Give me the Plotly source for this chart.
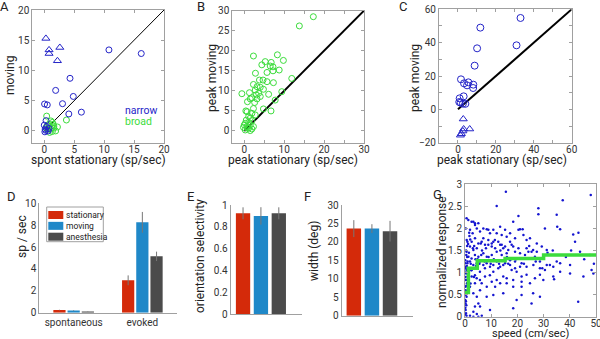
import plotly.graph_objects as go

W, H = 600, 339
def px(x): return x / W
def py(y): return 1 - y / H

FONT = "Roboto, sans-serif"
BLUE = "#2424C8"
GREEN = "#3CDC3C"
RED = "#D42A0A"
MBLUE = "#1F88C8"
GRAY = "#4B4B4B"
AX = "#A0A0A0"

# ---------------- Panel A data ----------------
a_tri_x = [0.27, 0.8, 0.8, 2.6, 2.2]
a_tri_y = [15.3, 13.4, 12.8, 13.8, 11.6]
a_narrow_x = [10.8, 16.2, 4.3, 1.9, 4.85, 3.05, 0.05, 0.5, 4.1, 6.2, 0.3, 0.0, 0.15, 0.4, 0.65, 0.1, 0.8, 0.25]
a_narrow_y = [13.4, 12.8, 8.7, 6.7, 5.7, 4.5, 4.45, 4.3, 2.8, 3.1, 1.7, 0.95, 0.3, 0.7, 0.0, -0.15, 0.4, 0.1]
a_broad_x = [0.4, 3.7, 1.1, 1.35, 0.8, 1.6, 1.25, 0.7, 1.9, 1.35, 0.55, 1.1, 0.3, 0.9, 1.6, 2.2, 1.5]
a_broad_y = [2.45, 1.8, 1.65, 1.4, 1.1, 0.8, 0.55, 0.3, 0.0, -0.1, 0.85, 0.3, 0.55, -0.25, 0.45, 0.65, 1.1]
a_unity = [0, 20]

# ---------------- Panel B data ----------------
b_x = [17.3, 13.8, 2.3, 8.3, 9.8, 5.25, 4.4, 6.75, 7.2, 6.5, 8.75, 7.2, 2.8, 5.7, 11.9, 3.8, 4.7, 5.7, 7.3,
       2.3, 3.2, 4.0, 4.8, 2.75, 1.3, -0.6, 3.6, 9.4, 6.1, 3.0, 4.0, 1.9, 1.5, 3.2, 7.75, 0.8, 2.6, 0.4, 0.7,
       2.3, 4.8, 6.7, 1.9, 2.75, 1.1, 1.5, 0.5, 1.9, 1.1, 0.25, 1.5, 0.7, -0.2, 1.1, 1.9, 0.25, 1.5, 0.8, 2.3, 0.0]
b_y = [28.5, 26.2, 18.7, 19.0, 17.6, 17.3, 16.5, 17.1, 16.0, 16.2, 15.2, 15.0, 14.4, 14.6, 13.1, 12.7, 12.7, 12.3, 12.05,
       11.6, 11.05, 10.9, 10.4, 10.2, 9.55, 9.3, 9.4, 9.8, 9.15, 9.0, 8.6, 8.3, 8.0, 8.0, 7.7, 7.3, 7.1, 5.0, 4.8,
       5.6, 5.5, 5.0, 4.4, 4.0, 3.6, 3.2, 2.7, 2.6, 2.1, 1.9, 1.5, 1.1, 0.9, 0.7, 0.5, 0.25, 0.1, 0.7, 1.1, 1.5]
b_unity = [0, 30]

# ---------------- Panel C data ----------------
c_circ_x = [33.0, 11.8, 10.1, 30.9, 8.8, 1.6, 3.2, 5.5, 4.8, 8.1, 8.0, 0.9, 0.7, 3.0, 1.4, 2.6, 3.9]
c_circ_y = [54.8, 49.0, 36.6, 38.4, 26.2, 18.0, 15.6, 16.2, 14.4, 14.8, 12.8, 6.6, 4.4, 7.8, 4.0, 3.4, 3.3]
c_tri_x = [2.8, 3.0, 2.6, 6.2, 1.8, 1.3]
c_tri_y = [-5.8, -11.8, -13.0, -11.8, -14.6, -15.5]
c_unity = [0, 60]

# ---------------- Panel D/E/F data ----------------
conditions = ["stationary", "moving", "anesthesia"]
cond_colors = [RED, MBLUE, GRAY]
d_categories = ["spontaneous", "evoked"]
d_vals = {"stationary": [0.24, 2.96], "moving": [0.21, 8.26], "anesthesia": [0.12, 5.15]}
d_errs = {"stationary": [0.03, 0.45], "moving": [0.03, 0.95], "anesthesia": [0.02, 0.43]}
e_vals = [0.924, 0.90, 0.924]
e_errs = [0.055, 0.08, 0.055]
f_vals = [23.6, 23.6, 22.9]
f_errs = [2.3, 1.2, 2.8]
ef_pos = [1, 2, 3]

# ---------------- Panel G data ----------------
g_speed = [15.6, 48, 37.3, 12.1, 28, 20.4, 35, 28, 2.5, 3.8, 0.6, 4.5, 8.3, 18.4, 21, 22, 30.5, 35.2, 36.3, 41.3,
           43.3, 42, 43.9, 47.7, 1.7, 2.9, 7.0, 10.8, 10.2, 11.4, 6.0, 8.9, 13.4, 17.2, 18.4, 14.6, 20.4, 23.5, 26,
           27.4, 25.4, 1.9, 3.2, 4.5, 0.6, 1.3, 2.5, 3.8, 5.1, 7, 8.3, 10.2, 12.1, 14, 15.9, 17.2, 19.1, 21, 19.7,
           21.6, 17.8, 14.6, 12.7, 10.8, 9.5, 7.6, 5.7, 3.8, 2.5, 1.3, 0.6, 1.9, 3.8, 5.7, 8.3, 12.1, 14.6, 15.9,
           18.4, 21.6, 23.5, 26.7, 28.6, 30.5, 32.4, 35, 36.3, 34, 26, 21.6, 18.4, 25.4, 43.2, 48.3, 49,
           0.1, 0.25, 0.4, 0.1, 0.25, 0.4, 0.1, 0.5, 0.25, 0.4, 0.6, 0.9, 0.75, 1.0, 0.6, 0.1, 0.2, 0.3, 0.1, 0.5,
           0.2, 0.3, 0.15, 0.35, 0.05, 0.6, 1.9, 3.2, 5.1, 6.4, 4.5, 3.2, 3.8, 5.1, 4.5,
           1.0, 1.5, 2.2, 3.0, 4.0, 5.5, 6.5, 7.5, 9.0, 11.0, 13.0, 16.0, 1.2, 2.0, 2.8, 3.5, 4.2, 6.2, 8.0, 9.8,
           0.8, 1.6, 2.4, 3.4, 4.8, 0.4, 0.7, 1.1, 0.3, 0.8, 13.5, 16.5, 19.5, 22.5, 24.5, 27.0, 29.5, 31.5, 33.5,
           38.5, 40.5, 45.5, 49.2, 0.2, 0.5, 0.9, 1.4, 2.1,
           1.27, 3.18, 3.82, 5.09, 1.91, 5.73, 7.0, 8.91, 9.54, 10.8, 12.1, 13.4, 14.0, 15.3, 15.9, 17.2, 19.1, 20.4,
           22.3, 23.5, 24.8, 27.4, 29.3, 31.2, 0.64, 2.54, 3.82, 5.09, 6.36, 7.63, 8.91, 10.2, 11.5, 12.7, 14.0, 15.3,
           16.5, 17.8, 19.1, 21.0, 22.9, 24.2, 26.7, 28.6, 0.89, 1.91, 3.18, 4.45, 5.73, 7.0, 8.27, 9.54, 10.8, 12.1,
           13.4, 15.3, 17.2, 19.1, 21.6, 23.5, 26.1, 28.6, 31.2, 33.7, 36.3, 40.1, 1.27, 2.54, 4.45, 6.36, 7.63, 10.2,
           11.5, 13.4, 15.9, 18.4, 21.6, 24.8, 29.9, 33.7, 40.1, 45.2, 3.18, 5.73, 8.27, 10.8, 14.6, 19.7, 28.6, 5.73, 9.54]
g_resp = [2.83, 2.76, 2.64, 2.51, 2.46, 2.28, 2.31, 2.32, 2.15, 2.12, 2.23, 2.0, 1.98, 2.15, 1.98, 1.98, 2.0, 2.04, 1.98, 1.86,
          1.9, 1.7, 1.47, 1.4, 1.83, 1.89, 1.78, 1.7, 1.66, 1.74, 1.66, 1.63, 1.63, 1.7, 1.59, 1.55, 1.55, 1.55, 1.51,
          1.47, 1.47, 1.59, 1.51, 1.55, 1.47, 1.36, 1.32, 1.40, 1.36, 1.44, 1.36, 1.40, 1.47, 1.40, 1.44, 1.28, 1.25, 1.13, 1.02,
          0.91, 1.06, 1.17, 1.10, 1.02, 0.94, 1.10, 1.02, 0.94, 1.06, 0.98, 0.83, 0.68, 0.76, 0.83, 0.68, 0.83, 0.91, 0.76,
          0.83, 0.68, 0.95, 0.87, 0.95, 1.06, 1.17, 1.25, 1.02, 0.85, 0.53, 0.49, 0.19, 0.30, 0.34, 1.06, 0.98,
          1.28, 1.13, 0.98, 0.83, 0.68, 0.53, 0.38, 0.26, 0.15, 0.08, 0.45, 0.6, 0.76, 0.91, 1.06, 1.21, 0.3, 0.5, 0.6, 0.7,
          0.9, 1.0, 0.2, 0.35, 0.05, 0.02, 0.02, 0.0, 0.0, 0.02, 0.06, 0.11, 0.23, 0.30, 0.45,
          1.25, 1.45, 1.2, 1.55, 1.3, 1.2, 1.5, 1.25, 1.35, 1.3, 1.2, 1.35, 1.65, 1.75, 1.1, 1.6, 1.15, 1.4, 1.55, 1.2,
          1.35, 1.9, 1.05, 0.9, 1.3, 1.5, 1.15, 0.85, 2.0, 1.6, 1.5, 1.2, 1.3, 1.2, 1.6, 1.25, 1.1, 1.45, 1.5,
          1.35, 1.5, 1.3, 1.2, 1.1, 1.4, 1.7, 1.0, 0.75,
          2.19, 2.15, 2.08, 2.12, 1.97, 1.93, 2.0, 1.97, 1.89, 1.97, 1.89, 2.04, 1.85, 1.97, 1.81, 1.89, 1.78, 1.97,
          1.85, 1.74, 1.78, 1.66, 1.59, 1.51, 1.74, 1.70, 1.78, 1.66, 1.70, 1.63, 1.74, 1.59, 1.55, 1.70, 1.63, 1.59,
          1.51, 1.63, 1.47, 1.44, 1.40, 1.47, 1.36, 1.25, 1.21, 1.25, 1.17, 1.21, 1.25, 1.17, 1.21, 1.13, 1.17, 1.25,
          1.13, 1.21, 1.17, 1.10, 1.21, 1.13, 1.17, 1.10, 1.17, 1.13, 1.21, 1.17, 0.83, 0.91, 0.87, 0.76, 0.91, 0.79,
          0.68, 0.76, 0.87, 0.68, 0.79, 0.76, 0.83, 0.91, 0.98, 0.91, 0.53, 0.60, 0.45, 0.49, 0.53, 0.38, 0.45, 0.23, 0.15]
g_step_x = [0, 1.3, 4.7, 15.3, 30, 50]
g_step_y = [0.55, 1.1, 1.27, 1.32, 1.4, 1.4]

fig = go.Figure()

def circ(x, y, color, xa, ya, size=6, symbol="circle-open"):
    fig.add_trace(go.Scatter(x=x, y=y, mode="markers", xaxis=xa, yaxis=ya, showlegend=False,
                             marker=dict(symbol=symbol, size=size, color=color, line=dict(width=1, color=color))))

def line(x, y, xa, ya, width, color="black", shape="linear"):
    fig.add_trace(go.Scatter(x=x, y=y, mode="lines", xaxis=xa, yaxis=ya, showlegend=False,
                             line=dict(color=color, width=width, shape=shape)))

# A
line(a_unity, a_unity, "x", "y", 1)
circ(a_broad_x, a_broad_y, GREEN, "x", "y")
circ(a_narrow_x, a_narrow_y, BLUE, "x", "y")
circ(a_tri_x, a_tri_y, BLUE, "x", "y", size=7, symbol="triangle-up-open")
# B
line(b_unity, b_unity, "x2", "y2", 2)
circ(b_x, b_y, GREEN, "x2", "y2", size=6)
# C
line(c_unity, c_unity, "x3", "y3", 2)
circ(c_circ_x, c_circ_y, BLUE, "x3", "y3", size=7)
circ(c_tri_x, c_tri_y, BLUE, "x3", "y3", size=7, symbol="triangle-up-open")

# D
for c, col in zip(conditions, cond_colors):
    fig.add_trace(go.Bar(x=d_categories, y=d_vals[c], name=c, marker=dict(color=col, line=dict(width=0)),
                         error_y=dict(type="data", array=d_errs[c], color="#777", thickness=1, width=0),
                         xaxis="x4", yaxis="y4", showlegend=False))
# E, F
for i, (c, col) in enumerate(zip(conditions, cond_colors)):
    fig.add_trace(go.Bar(x=[ef_pos[i]], y=[e_vals[i]], width=0.8, marker=dict(color=col, line=dict(width=0)),
                         error_y=dict(type="data", array=[e_errs[i]], color="#777", thickness=1, width=0),
                         xaxis="x5", yaxis="y5", showlegend=False))
    fig.add_trace(go.Bar(x=[ef_pos[i]], y=[f_vals[i]], width=0.8, marker=dict(color=col, line=dict(width=0)),
                         error_y=dict(type="data", array=[f_errs[i]], color="#777", thickness=1, width=0),
                         xaxis="x6", yaxis="y6", showlegend=False))
# G
fig.add_trace(go.Scatter(x=g_speed, y=g_resp, mode="markers", xaxis="x7", yaxis="y7", showlegend=False,
                         marker=dict(size=2.5, color="#1515D0")))
line(g_step_x, g_step_y, "x7", "y7", 3.5, color=GREEN, shape="hv")

TF = dict(size=10, color="#333", family=FONT)

def box_axes(xd, yd, xr, yr, xt, xl, yt, yl, n):
    sx = "" if n == 1 else str(n)
    common = dict(ticks="inside", ticklen=3, tickcolor=AX, showline=True, linecolor=AX, linewidth=1,
                  mirror="ticks", showgrid=False, zeroline=False, tickfont=TF, automargin=False,
                  ticklabeloverflow="allow")
    fig.update_layout({
        "xaxis" + sx: dict(domain=xd, range=xr, tickvals=xt, ticktext=xl, anchor="y" + sx,
                           ticklabelstandoff=-3, **common),
        "yaxis" + sx: dict(domain=yd, range=yr, tickvals=yt, ticktext=yl, anchor="x" + sx, **common),
    })

box_axes([px(32.3), px(164)], [py(143), py(10)], [-2, 20], [-2, 20],
         [0, 5, 10, 15, 20], ["0", "5", "10", "15", "20"], [0, 5, 10, 15, 20], ["0", "5", "10", "15", "20"], 1)
box_axes([px(232.3), px(364)], [py(143), py(10.7)], [-3, 30], [-3, 30],
         [0, 5, 10, 15, 20, 25, 30], ["0", "", "10", "", "20", "", "30"],
         [0, 5, 10, 15, 20, 25, 30], ["0", "5", "10", "15", "20", "25", "30"], 2)
box_axes([px(439), px(571.7)], [py(142.7), py(9.3)], [-10, 60], [-20, 60],
         [-10, 0, 10, 20, 30, 40, 50, 60], ["", "0", "", "20", "", "40", "", "60"],
         [-20, -10, 0, 10, 20, 30, 40, 50, 60], ["\u221220", "", "0", "", "20", "", "40", "", "60"], 3)
box_axes([px(465), px(596)], [py(316.7), py(184.3)], [0, 50], [0, 3],
         [0, 10, 20, 30, 40, 50], ["0", "10", "20", "30", "40", "50"],
         [0, 0.5, 1, 1.5, 2, 2.5, 3], ["0", "0.5", "1", "1.5", "2", "2.5", "3"], 7)

plain = dict(showline=True, linecolor=AX, linewidth=1, ticks="", showgrid=False, zeroline=False, tickfont=TF,
             automargin=False)
fig.update_layout(
    xaxis4=dict(domain=[px(39.3), px(176.7)], anchor="y4", range=[-0.5, 1.5], **plain),
    yaxis4=dict(domain=[py(312.7), py(203.3)], anchor="x4", range=[0, 10], tickvals=[0, 2, 4, 6, 8, 10], **plain),
    xaxis5=dict(domain=[px(230.7), px(301.7)], anchor="y5", range=[0.31, 4.28], showticklabels=False, **plain),
    yaxis5=dict(domain=[py(314.3), py(205)], anchor="x5", range=[0, 1], tickvals=[0, 0.2, 0.4, 0.6, 0.8, 1], **plain),
    xaxis6=dict(domain=[px(341.7), px(413)], anchor="y6", range=[0.33, 4.27], showticklabels=False, **plain),
    yaxis6=dict(domain=[py(315.7), py(205)], anchor="x6", range=[0, 30], tickvals=[0, 5, 10, 15, 20, 25, 30], **plain),
    barmode="group", bargap=0.38, bargroupgap=0.14,
)

ann = []
def text(x, y, t, size=12, color="#222", angle=0, xanchor="center"):
    ann.append(dict(x=px(x), y=py(y), xref="paper", yref="paper", text=t, showarrow=False, textangle=angle,
                    xanchor=xanchor, yanchor="middle", font=dict(size=size, color=color, family=FONT)))

# axis titles
text(98, 160, "spont stationary (sp/sec)")
text(10, 76, "moving", angle=-90)
text(293, 160, "peak stationary (sp/sec)")
text(212, 78, "peak moving", angle=-90)
text(502, 160, "peak stationary (sp/sec)")
text(415, 78, "peak moving", angle=-90)
text(22, 237, "sp / sec", angle=-90)
text(200, 256, "orientation selectivity", angle=-90)
text(314, 251, "width (deg)", angle=-90)
text(442, 252, "normalized response", angle=-90)
text(530, 333.5, "speed (cm/sec)", size=11)
# A legend words
text(122.5, 110, "narrow", size=10.5, color=BLUE, xanchor="left")
text(122.5, 122, "broad", size=10.5, color=GREEN, xanchor="left")
# panel letters
for L, x, y in [("A", 4, 6), ("B", 201, 6), ("C", 403, 6), ("D", 11.5, 196), ("E", 190, 196),
                ("F", 307.5, 196), ("G", 437.5, 194)]:
    text(x, y, L, size=13, color="#222")

# D legend (drawn box)
shapes = [dict(type="rect", xref="paper", yref="paper", x0=px(46.7), x1=px(103.3), y0=py(241.7), y1=py(207),
               line=dict(color=AX, width=1), fillcolor="white")]
for i, (c, col) in enumerate(zip(conditions, cond_colors)):
    yc = 215 + i * 10.85
    shapes.append(dict(type="rect", xref="paper", yref="paper", x0=px(48.3), x1=px(63.3),
                       y0=py(yc + 4), y1=py(yc - 4), line=dict(width=0), fillcolor=col))
    text(63.8, yc, c, size=8.5, color="#222", xanchor="left")

fig.update_layout(template="none", width=W, height=H, margin=dict(l=0, r=0, t=0, b=0, pad=0),
                  paper_bgcolor="white", plot_bgcolor="white", annotations=ann, shapes=shapes,
                  font=dict(family=FONT), hovermode=False)
fig.write_html("out.html", config={"displayModeBar": False, "staticPlot": True},
               post_script="document.body.style.margin='0';document.body.style.overflow='hidden';")
